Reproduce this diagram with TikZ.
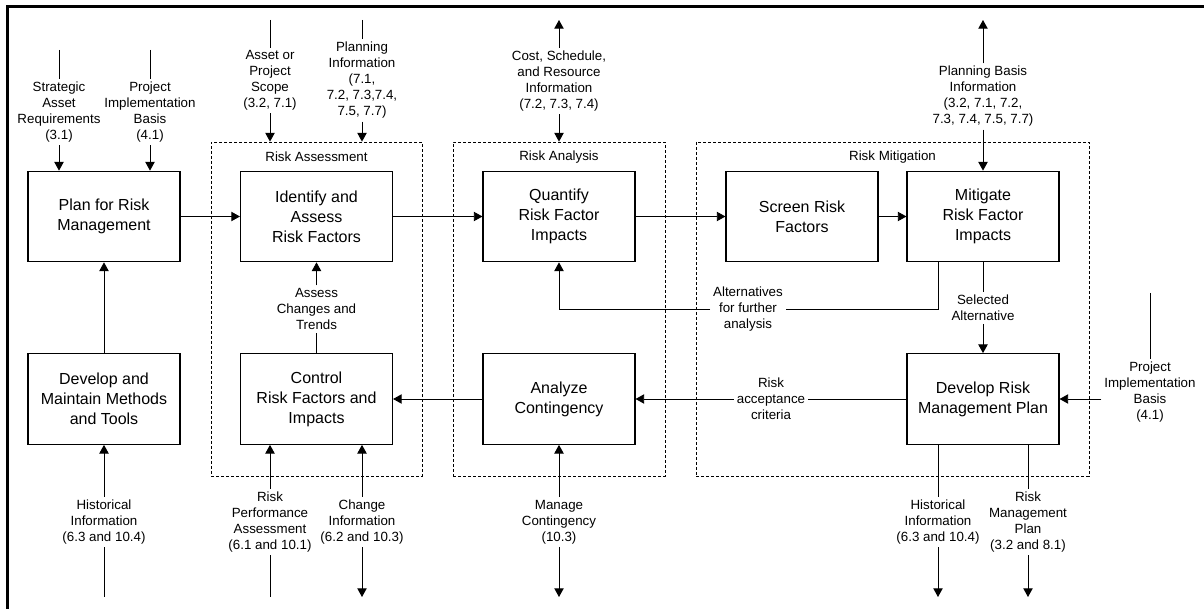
\documentclass[tikz,border=0pt]{standalone}
\usepackage{fontspec}
\setmainfont{Liberation Sans}
\usetikzlibrary{arrows.meta}

\begin{document}
\begin{tikzpicture}[x=0.75pt,y=-0.75pt,
    >={Triangle[length=6.5pt,width=7pt]},
    proc/.style={draw,line width=0.8pt,minimum width=114pt,minimum height=68pt,
      align=center,inner sep=0pt,font=\fontsize{12}{15}\selectfont},
    group/.style={draw,line width=0.6pt,dash pattern=on 2.25pt off 1.5pt,
      minimum height=250.5pt,inner sep=0pt},
    lbl/.style={align=center,inner sep=2pt,font=\fontsize{10}{12}\selectfont},
    flow/.style={line width=0.7pt}]

  \useasboundingbox (0,0) rectangle (1204,609);
  \draw[line width=2.25pt] (7,609) -- (7,7) -- (1204,7);

  % dashed groups
  \node[group,minimum width=158.25pt] (assess) at (316.5,309) {};
  \node[group,minimum width=159pt] (analysis) at (559,309) {};
  \node[group,minimum width=294.75pt] (mitigation) at (892.5,309) {};
  \node[lbl] (assesstitle) at (316.5,157) {Risk Assessment};
  \node[lbl] (analysistitle) at (559,157) {Risk Analysis};
  \node[lbl] (mitigationtitle) at (892.5,157) {Risk Mitigation};

  % process boxes
  \node[proc] (plan) at (104,216.5) {Plan for Risk\\Management};
  \node[proc] (methods) at (104,399) {Develop and\\Maintain Methods\\and Tools};
  \node[proc] (identify) at (316.5,216.5) {Identify and\\Assess\\Risk Factors};
  \node[proc] (control) at (316.5,399) {Control\\Risk Factors and\\Impacts};
  \node[proc] (quantify) at (559,216.5) {Quantify\\Risk Factor\\Impacts};
  \node[proc] (contingency) at (559,399) {Analyze\\Contingency};
  \node[proc] (screen) at (802,216.5) {Screen Risk\\Factors};
  \node[proc] (mitigate) at (983,216.5) {Mitigate\\Risk Factor\\Impacts};
  \node[proc] (rmplan) at (983,399) {Develop Risk\\Management Plan};

  % main flow
  \draw[flow,->] (plan) -- (identify);
  \draw[flow,->] (identify) -- (quantify);
  \draw[flow,->] (quantify) -- (screen);
  \draw[flow,->] (screen) -- (mitigate);
  \draw[flow,->] (methods) -- (plan);
  \draw[flow,->] (contingency) -- (control);

  % inputs from the top
  \node[lbl] (strat) at (59,112) {Strategic\\Asset\\Requirements\\(3.1)};
  \coordinate (strattop) at (59,50);
  \draw[flow] (strattop) -- (strat);
  \draw[flow,->] (strat) -- (strat |- plan.north);

  \node[lbl] (pib) at (150,112) {Project\\Implementation\\Basis\\(4.1)};
  \coordinate (pibtop) at (150,50);
  \draw[flow] (pibtop) -- (pib);
  \draw[flow,->] (pib) -- (pib |- plan.north);

  \node[lbl] (scope) at (270,80.5) {Asset or\\Project\\Scope\\(3.2, 7.1)};
  \coordinate (scopetop) at (270,20);
  \draw[flow] (scopetop) -- (scope);
  \draw[flow,->] (scope) -- (scope |- assess.north);

  \node[lbl] (planinfo) at (362,80.5) {Planning\\Information\\(7.1,\\7.2, 7.3,7.4,\\7.5, 7.7)};
  \coordinate (planinfotop) at (362,20);
  \draw[flow] (planinfotop) -- (planinfo);
  \draw[flow,->] (planinfo) -- (planinfo |- assess.north);

  \node[lbl] (cost) at (559,81) {Cost, Schedule,\\and Resource\\Information\\(7.2, 7.3, 7.4)};
  \coordinate (costtop) at (559,20);
  \draw[flow,->] (cost) -- (costtop);
  \draw[flow,->] (cost) -- (analysis.north);

  \node[lbl] (basis) at (983,96.5) {Planning Basis\\Information\\(3.2, 7.1, 7.2,\\7.3, 7.4, 7.5, 7.7)};
  \coordinate (basistop) at (983,20);
  \draw[flow,->] (basis) -- (basistop);
  \draw[flow,->] (basis) -- (mitigate);

  % feedback in the middle
  \node[lbl] (changes) at (316.5,309) {Assess\\Changes and\\Trends};
  \draw[flow] (control) -- (changes);
  \draw[flow,->] (changes) -- (identify);

  \node[lbl] (alt) at (748,309) {Alternatives\\for further\\analysis};
  \coordinate (altbend) at (938,309);
  \draw[flow] (mitigate.south -| altbend) -- (altbend) -- (alt);
  \draw[flow,->] (alt) -| (quantify);

  \node[lbl] (selected) at (983,308) {Selected\\Alternative};
  \draw[flow] (mitigate) -- (selected);
  \draw[flow,->] (selected) -- (rmplan);

  \node[lbl] (accept) at (771,399) {Risk\\acceptance\\criteria};
  \draw[flow] (rmplan) -- (accept);
  \draw[flow,->] (accept) -- (contingency);

  \node[lbl] (pibr) at (1150,392) {Project\\Implementation\\Basis\\(4.1)};
  \coordinate (pibrtop) at (1150,293);
  \draw[flow] (pibrtop) -- (pibr);
  \draw[flow,->] (pibr.west |- rmplan) -- (rmplan);

  % bottom
  \node[lbl] (hist) at (104,522) {Historical\\Information\\(6.3 and 10.4)};
  \coordinate (histbot) at (104,597);
  \draw[flow] (histbot) -- (hist);
  \draw[flow,->] (hist) -- (methods);

  \node[lbl] (perf) at (270,522) {Risk\\Performance\\Assessment\\(6.1 and 10.1)};
  \coordinate (perfbot) at (270,597);
  \draw[flow] (perfbot) -- (perf);
  \draw[flow,->] (perf) -- (perf |- control.south);

  \node[lbl] (change) at (362,522) {Change\\Information\\(6.2 and 10.3)};
  \coordinate (changebot) at (362,597);
  \draw[flow,->] (change) -- (change |- control.south);
  \draw[flow,->] (change) -- (changebot);

  \node[lbl] (manage) at (559,522) {Manage\\Contingency\\(10.3)};
  \coordinate (managebot) at (559,597);
  \draw[flow,->] (manage) -- (contingency);
  \draw[flow,->] (manage) -- (managebot);

  \node[lbl] (histout) at (938,522) {Historical\\Information\\(6.3 and 10.4)};
  \coordinate (histoutbot) at (938,597);
  \draw[flow] (histout |- rmplan.south) -- (histout);
  \draw[flow,->] (histout) -- (histoutbot);

  \node[lbl] (rmp) at (1028,522) {Risk\\Management\\Plan\\(3.2 and 8.1)};
  \coordinate (rmpbot) at (1028,597);
  \draw[flow] (rmp |- rmplan.south) -- (rmp);
  \draw[flow,->] (rmp) -- (rmpbot);
\end{tikzpicture}
\end{document}
